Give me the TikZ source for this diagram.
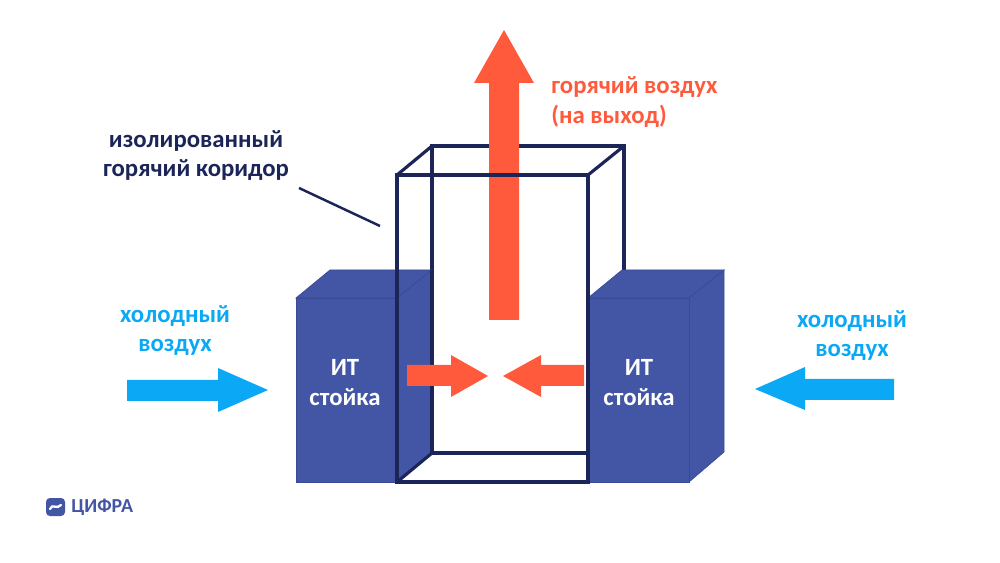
\documentclass[tikz,border=0pt]{standalone}
\usepackage{fontspec}
\setmainfont{Carlito}
\definecolor{rackblue}{HTML}{4355A5}
\definecolor{rackline}{HTML}{3A4A96}
\definecolor{corridor}{HTML}{1C2558}
\definecolor{hotair}{HTML}{FF5A3C}
\definecolor{coldair}{HTML}{0AA8F5}

\begin{document}
\begin{tikzpicture}[x=.02cm,y=-.02cm,
		every node/.style={font=\bfseries\fontsize{14.1}{16.8}\selectfont,align=center},
		rackface/.style={fill=rackblue,draw=rackline,line width=.4pt},
		wall/.style={draw=corridor,line width=1.8pt,line join=miter}]
	\useasboundingbox (0,0) rectangle (1000,563);

	% corridor, back edges
	\draw[wall] (432,270) -- (432,146) -- (624,146) -- (624,270);
	\draw[wall] (397,175) -- (432,146);
	\draw[wall] (588,175) -- (624,146);

	% left rack
	\fill[rackface] (296,298) -- (330,270) -- (432,270) -- (397,298) -- cycle;
	\fill[rackface] (397,298) -- (432,270) -- (432,453) -- (397,482) -- cycle;
	\fill[rackface] (296,298) rectangle (397,482);
	\node[text=white] (leftrack) at (345,382.5) {ИТ\\стойка};

	% right rack
	\fill[rackface] (588,298) -- (622,270) -- (724,270) -- (689,298) -- cycle;
	\fill[rackface] (689,298) -- (724,270) -- (724,452) -- (689,482) -- cycle;
	\fill[rackface] (588,298) rectangle (689,482);
	\node[text=white] (rightrack) at (639,382.5) {ИТ\\стойка};

	% air going up, in front of the back edge only
	\fill[hotair] (489,320) -- (489,83) -- (474,83) -- (504,30) -- (534,83) -- (519,83) -- (519,320) -- cycle;

	% corridor, remaining edges
	\draw[wall] (432,270) -- (432,453) -- (588,453);
	\draw[wall] (397,482) -- (432,453);
	\draw[wall] (397,175) rectangle (588,482);

	% air flows
	\fill[hotair] (407,365) -- (451,365) -- (451,355) -- (488,376) -- (451,397) -- (451,386) -- (407,386) -- cycle;
	\fill[hotair] (584,365) -- (541,365) -- (541,355) -- (503,376) -- (541,397) -- (541,386) -- (584,386) -- cycle;
	\fill[coldair] (127,380) -- (218,380) -- (218,368) -- (268,390) -- (218,412) -- (218,401) -- (127,401) -- cycle;
	\fill[coldair] (894,379) -- (805,379) -- (805,367) -- (755,389) -- (805,410) -- (805,400) -- (894,400) -- cycle;

	\node[text=coldair] (coldleft) at (175,330.5) {холодный\\воздух};
	\node[text=coldair] (coldright) at (852,335.5) {холодный\\воздух};
	\node[text=hotair,align=left,anchor=west,inner xsep=0pt] (hotout) at (551,102) {горячий воздух\\(на выход)};
	\node[text=corridor] (label) at (196,155.5) {изолированный\\горячий коридор};

	\coordinate (leaderA) at (299,188);
	\coordinate (leaderB) at (380,226);
	\draw[corridor,line width=1.4pt] (leaderA) -- (leaderB);

	% logo
	\fill[rackblue,rounded corners=2.2pt] (46,498) rectangle (65,516);
	\draw[white,line width=1.3pt,line cap=round] (50,509) .. controls (52,503) and (57,510) .. (61,505);
	\node[text=rackblue,font=\bfseries\fontsize{11.3}{13}\selectfont,anchor=west,inner xsep=0pt] (logo) at (71,507.5) {ЦИФРА};
\end{tikzpicture}
\end{document}
